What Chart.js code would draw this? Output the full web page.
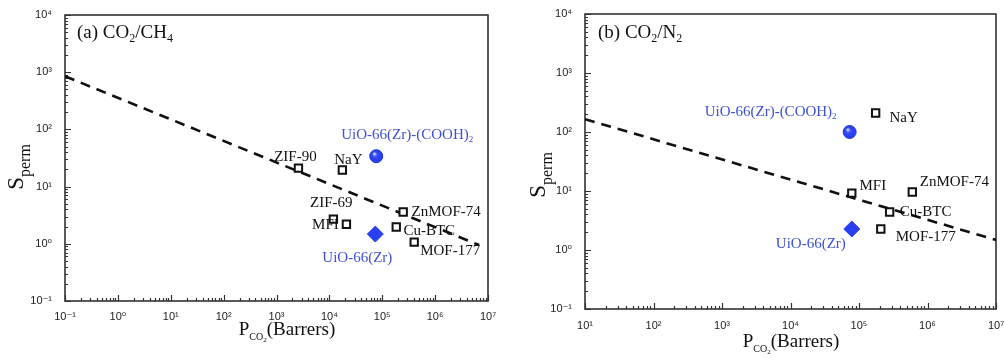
<!DOCTYPE html>
<html>
<head>
<meta charset="utf-8">
<script src="https://cdn.jsdelivr.net/npm/chart.js@4.4.1/dist/chart.umd.min.js"></script>
<style>
  html, body { margin: 0; padding: 0; background: #fff; }
  #wrap { position: relative; width: 1005px; height: 363px; }
  .panel { position: absolute; top: 0; height: 363px; }
</style>
</head>
<body>
<div id="wrap">
  <div class="panel" style="left:0;width:497px"><canvas id="left"></canvas></div>
  <div class="panel" style="left:500px;width:505px"><canvas id="right"></canvas></div>
</div>
<script>
// (a) CO2/CH4
const LEFT_NAMES = ["ZIF-90", "NaY", "ZIF-69", "MFI", "ZnMOF-74", "Cu-BTC", "MOF-177"];
const LEFT_PERM = [2600, 17600, 11900, 21000, 249000, 184000, 402000];
const LEFT_SEL = [21, 19.5, 2.7, 2.2, 3.6, 1.97, 1.07];
const LEFT_UIO_COOH = [77000, 34];
const LEFT_UIO = [74000, 1.48];
const LEFT_BOUND_X = [0.1, 6.8e6];
const LEFT_BOUND_Y = [850, 0.95];
const LEFT_X_EXP = [-1, 0, 1, 2, 3, 4, 5, 6, 7];
const LEFT_Y_EXP = [-1, 0, 1, 2, 3, 4];

// (b) CO2/N2
const RIGHT_NAMES = ["NaY", "MFI", "ZnMOF-74", "Cu-BTC", "MOF-177"];
const RIGHT_PERM = [175000, 78500, 600000, 280000, 208000];
const RIGHT_SEL = [210, 9.2, 9.6, 4.4, 2.27];
const RIGHT_UIO_COOH = [73000, 100];
const RIGHT_UIO = [78500, 2.27];
const RIGHT_BOUND_X = [10, 1e7];
const RIGHT_BOUND_Y = [165, 1.48];
const RIGHT_X_EXP = [1, 2, 3, 4, 5, 6, 7];
const RIGHT_Y_EXP = [-1, 0, 1, 2, 3, 4];

// label offsets from their marker (px)
const LEFT_LABEL_OFF = [[-3, -11], [6, -10], [-2, -16], [-21, 1], [43, 0], [33, 4], [36, 9]];
const RIGHT_LABEL_OFF = [[28, 5], [21, -7], [42, -10], [36, 0], [45, 8]];

const SERIF = '"Liberation Serif", "Times New Roman", serif';
const SANS = '"Liberation Sans", Arial, "DejaVu Sans", sans-serif';
const BLUE_TEXT = "#3f4fd6";
const BLUE_MARK = "#2a40f0";
const SUP = { "-": "\u207B", "0": "\u2070", "1": "\u00B9", "2": "\u00B2", "3": "\u00B3",
  "4": "\u2074", "5": "\u2075", "6": "\u2076", "7": "\u2077" };

function powLabel(v) {
  const e = Math.round(Math.log10(v));
  return "10" + String(e).split("").map((c) => SUP[c]).join("");
}

// "CO_2" -> parts with single-char subscripts
function parseSub(str, size) {
  const parts = [];
  let buf = "";
  for (let i = 0; i < str.length; i++) {
    if (str[i] === "_" && i + 1 < str.length) {
      if (buf) parts.push([buf, size, 0]);
      buf = "";
      parts.push([str[i + 1], Math.round(size * 0.62), size * 0.32]);
      i++;
    } else {
      buf += str[i];
    }
  }
  if (buf) parts.push([buf, size, 0]);
  return parts;
}

function drawRich(ctx, parts, x, y, align) {
  let w = 0;
  for (const p of parts) {
    ctx.font = `${p[1]}px ${SERIF}`;
    w += ctx.measureText(p[0]).width;
  }
  let cx = align === "center" ? x - w / 2 : x;
  ctx.textAlign = "left";
  ctx.textBaseline = "middle";
  for (const p of parts) {
    ctx.font = `${p[1]}px ${SERIF}`;
    ctx.fillText(p[0], cx, y + p[2]);
    cx += ctx.measureText(p[0]).width;
  }
}

// box round the plot plus inward ticks
const framePlugin = {
  id: "frame",
  beforeDatasetsDraw(chart) {
    const { ctx, chartArea: a, scales } = chart;
    ctx.save();
    ctx.strokeStyle = "#333";
    ctx.lineWidth = 1.2;
    ctx.beginPath();
    for (const sc of [scales.x, scales.y]) {
      const lo = Math.round(Math.log10(sc.min));
      const hi = Math.round(Math.log10(sc.max));
      for (let e = lo; e <= hi; e++) {
        for (let m = 1; m <= 9; m++) {
          const v = m * Math.pow(10, e);
          if (v > sc.max * 1.0001) break;
          const len = m === 1 ? 6 : 3;
          const p = Math.round(sc.getPixelForValue(v)) + 0.5;
          if (sc.axis === "x") {
            ctx.moveTo(p, a.bottom);
            ctx.lineTo(p, a.bottom - len);
          } else {
            ctx.moveTo(a.left, p);
            ctx.lineTo(a.left + len, p);
          }
        }
      }
    }
    ctx.stroke();
    ctx.lineWidth = 1.6;
    ctx.strokeRect(a.left, a.top, a.right - a.left, a.bottom - a.top);
    ctx.restore();
  },
};

// marker labels, shading on the sphere, axis titles
const textPlugin = {
  id: "texts",
  afterDatasetsDraw(chart, args, opts) {
    const ctx = chart.ctx;
    ctx.save();
    const c = chart.getDatasetMeta(1).data[0];
    const g = ctx.createRadialGradient(c.x - 2, c.y - 2.5, 0.5, c.x, c.y, 7);
    g.addColorStop(0, "rgba(255,255,255,0.85)");
    g.addColorStop(0.35, "rgba(80,100,255,0.3)");
    g.addColorStop(1, "rgba(20,40,220,0)");
    ctx.fillStyle = g;
    ctx.beginPath();
    ctx.arc(c.x, c.y, 6.5, 0, Math.PI * 2);
    ctx.fill();

    const sq = chart.getDatasetMeta(0).data;
    ctx.fillStyle = "#111";
    opts.names.forEach((n, i) => {
      drawRich(ctx, parseSub(n, 15), sq[i].x + opts.offsets[i][0], sq[i].y + opts.offsets[i][1], "center");
    });
    ctx.fillStyle = BLUE_TEXT;
    drawRich(ctx, parseSub("UiO-66(Zr)-(COOH)_2", 15), c.x + opts.cooh[0], c.y + opts.cooh[1], "center");
    const d = chart.getDatasetMeta(2).data[0];
    drawRich(ctx, parseSub("UiO-66(Zr)", 15), d.x + opts.uio[0], d.y + opts.uio[1], "center");

    ctx.fillStyle = "#111";
    drawRich(ctx, parseSub(opts.title, 19), opts.titlePos[0], opts.titlePos[1], "left");
    // x title
    drawRich(ctx, [["P", 19, 0], ["CO", 10, 7], ["2", 7, 10], ["(Barrers)", 19, 0]],
      opts.xTitle[0], opts.xTitle[1], "center");
    // y title, rotated
    ctx.translate(opts.yTitle[0], opts.yTitle[1]);
    ctx.rotate(-Math.PI / 2);
    drawRich(ctx, [["S", 23, 0], ["perm", 16, 9]], 0, 0, "center");
    ctx.restore();
  },
};

function makePanel(id, cfg) {
  const sqData = cfg.perm.map((x, i) => ({ x, y: cfg.sel[i] }));
  const bound = cfg.boundX.map((x, i) => ({ x, y: cfg.boundY[i] }));
  return new Chart(document.getElementById(id), {
    type: "scatter",
    data: {
      datasets: [
        { data: sqData, pointStyle: "rect", pointRadius: 5.2, borderColor: "#111",
          borderWidth: 2, backgroundColor: "#fff" },
        { data: [{ x: cfg.cooh[0], y: cfg.cooh[1] }], pointStyle: "circle", pointRadius: 6.5,
          backgroundColor: BLUE_MARK, borderColor: "#2236d8", borderWidth: 1 },
        { data: [{ x: cfg.uio[0], y: cfg.uio[1] }], pointStyle: "rectRot", pointRadius: 8,
          backgroundColor: BLUE_MARK, borderColor: BLUE_MARK, borderWidth: 1 },
        { data: bound, showLine: true, borderColor: "#111", borderWidth: 2.6,
          borderDash: [10, 7], pointRadius: 0 },
      ],
    },
    options: {
      responsive: true,
      maintainAspectRatio: false,
      animation: false,
      events: [],
      layout: { padding: cfg.padding },
      plugins: {
        legend: { display: false },
        tooltip: { enabled: false },
        texts: cfg.texts,
      },
      scales: {
        x: {
          type: "logarithmic",
          min: Math.pow(10, cfg.xExp[0]),
          max: Math.pow(10, cfg.xExp[cfg.xExp.length - 1]),
          grid: { display: false },
          border: { display: false },
          afterBuildTicks: (s) => { s.ticks = cfg.xExp.map((e) => ({ value: Math.pow(10, e) })); },
          afterFit: (s) => { s.height = cfg.xHeight; s.paddingLeft = 0; s.paddingRight = 0; },
          ticks: { autoSkip: false, maxRotation: 0, padding: cfg.xPad, color: "#222",
            font: { family: SANS, size: 11 }, callback: (v) => powLabel(v) },
        },
        y: {
          type: "logarithmic",
          min: Math.pow(10, cfg.yExp[0]),
          max: Math.pow(10, cfg.yExp[cfg.yExp.length - 1]),
          grid: { display: false },
          border: { display: false },
          afterBuildTicks: (s) => { s.ticks = cfg.yExp.map((e) => ({ value: Math.pow(10, e) })); },
          afterFit: (s) => { s.width = cfg.yWidth; s.paddingTop = 0; s.paddingBottom = 0; },
          ticks: { autoSkip: false, padding: 5, color: "#222",
            font: { family: SANS, size: 11 }, callback: (v) => powLabel(v) },
        },
      },
    },
    plugins: [framePlugin, textPlugin],
  });
}

makePanel("left", {
  perm: LEFT_PERM, sel: LEFT_SEL, cooh: LEFT_UIO_COOH, uio: LEFT_UIO,
  boundX: LEFT_BOUND_X, boundY: LEFT_BOUND_Y, xExp: LEFT_X_EXP, yExp: LEFT_Y_EXP,
  padding: { left: 0, right: 8, top: 15, bottom: 0 }, xHeight: 62, yWidth: 65, xPad: 1,
  texts: {
    names: LEFT_NAMES, offsets: LEFT_LABEL_OFF, cooh: [31, -21], uio: [-18, 24],
    title: "(a) CO_2/CH_4", titlePos: [77, 33], xTitle: [287, 330], yTitle: [17, 167],
  },
});

makePanel("right", {
  perm: RIGHT_PERM, sel: RIGHT_SEL, cooh: RIGHT_UIO_COOH, uio: RIGHT_UIO,
  boundX: RIGHT_BOUND_X, boundY: RIGHT_BOUND_Y, xExp: RIGHT_X_EXP, yExp: RIGHT_Y_EXP,
  padding: { left: 0, right: 7, top: 14, bottom: 0 }, xHeight: 54, yWidth: 85, xPad: 2,
  texts: {
    names: RIGHT_NAMES, offsets: RIGHT_LABEL_OFF, cooh: [-79, -20], uio: [-41, 15],
    title: "(b) CO_2/N_2", titlePos: [98, 33], xTitle: [291, 342], yTitle: [39, 175],
  },
});
</script>
</body>
</html>
